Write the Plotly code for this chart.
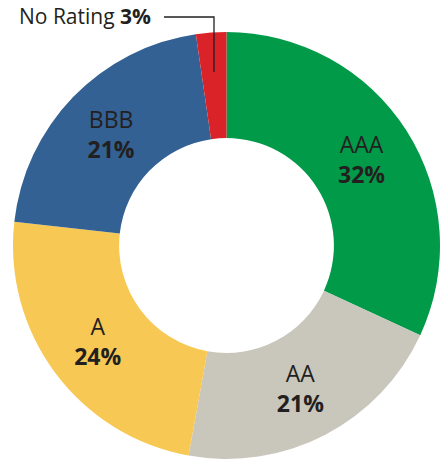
import plotly.graph_objects as go

categories = ["AAA", "AA", "A", "BBB", "No Rating"]
values = [32, 21, 24, 21, 2.3]
pct_labels = ["32%", "21%", "24%", "21%", "3%"]
colors = ["#009a49", "#c9c6bb", "#f8c855", "#336193", "#da2229"]

W, H = 445, 459
FONT = "Open Sans"
INK = "#231f20"


def px(x):
    return x / W


def py(y):
    return 1 - y / H


texttemplates = ["%{label}<br><b>%{text}</b>"] * 4 + [""]

fig = go.Figure(go.Pie(
    labels=categories,
    values=values,
    text=pct_labels,
    texttemplate=texttemplates,
    textinfo="text",
    textposition="inside",
    insidetextorientation="horizontal",
    hole=0.503,
    sort=False,
    direction="clockwise",
    rotation=0,
    marker=dict(colors=colors, line=dict(width=0)),
    textfont=dict(family=FONT, size=23, color=INK),
    domain=dict(x=[px(13), px(440)], y=[py(459), py(32)]),
    showlegend=False,
    hoverinfo="label+text",
))

fig.add_annotation(
    x=px(153), y=py(16), xref="paper", yref="paper",
    xanchor="right", yanchor="middle",
    text=f"{categories[4]} <b>{pct_labels[4]}</b>",
    showarrow=False,
    font=dict(family=FONT, size=21, color=INK),
)

fig.add_shape(
    type="path", xref="paper", yref="paper",
    path=f"M {px(164)} {py(17)} L {px(214)} {py(17)} L {px(214)} {py(72)}",
    line=dict(color=INK, width=1.3),
)

fig.update_layout(
    width=W, height=H,
    margin=dict(l=0, r=0, t=0, b=0),
    paper_bgcolor="white",
    plot_bgcolor="white",
    uniformtext=dict(minsize=23, mode="show"),
)

fig.write_html(
    "out.html",
    config={"displayModeBar": False},
    post_script="document.body.style.margin='0';document.body.style.overflow='hidden';",
)
